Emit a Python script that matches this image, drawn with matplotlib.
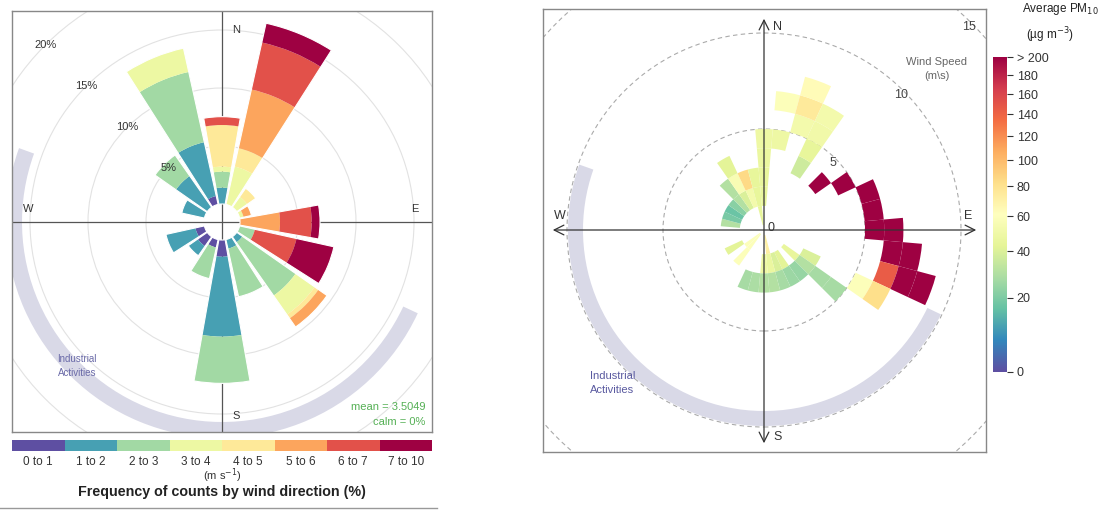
import numpy as np
import matplotlib.pyplot as plt
from matplotlib.patches import Wedge, Circle
from matplotlib.lines import Line2D

plt.rcParams['font.family'] = ['Liberation Sans', 'DejaVu Sans']

W, H = 1108, 515

# ---- wind rose: % of counts per 22.5 deg sector, split by speed bin (m/s)
directions = np.arange(0, 360, 22.5)
speed_bins = ['0 to 1', '1 to 2', '2 to 3', '3 to 4', '4 to 5', '5 to 6', '6 to 7', '7 to 10']
freq = np.array([
    [0.00, 1.41, 1.38, 0.43, 3.59, 0.00, 0.72, 0.00],   # N
    [0.00, 0.00, 0.00, 3.35, 1.62, 5.18, 4.15, 1.70],   # NNE
    [0.00, 0.00, 0.00, 1.10, 0.90, 0.00, 0.00, 0.00],   # NE
    [0.00, 0.00, 0.00, 0.35, 0.00, 0.70, 0.00, 0.00],   # ENE
    [0.00, 0.00, 0.00, 0.00, 0.00, 3.45, 2.73, 0.72],   # E
    [0.00, 0.00, 1.35, 0.00, 0.00, 0.00, 3.68, 3.30],   # ESE
    [0.00, 0.60, 5.60, 2.00, 0.40, 0.90, 0.00, 0.00],   # SE
    [0.00, 0.80, 4.25, 0.00, 0.00, 0.00, 0.00, 0.00],   # SSE
    [1.44, 6.89, 4.03, 0.00, 0.00, 0.00, 0.00, 0.00],   # S
    [0.70, 0.00, 2.75, 0.00, 0.00, 0.00, 0.00, 0.00],   # SSW
    [1.00, 1.00, 0.00, 0.00, 0.00, 0.00, 0.00, 0.00],   # SW
    [0.80, 2.60, 0.00, 0.00, 0.00, 0.00, 0.00, 0.00],   # WSW
    [0.00, 0.00, 0.00, 0.00, 0.00, 0.00, 0.00, 0.00],   # W
    [0.00, 2.00, 0.00, 0.00, 0.00, 0.00, 0.00, 0.00],   # WNW
    [0.00, 3.30, 2.20, 0.00, 0.00, 0.00, 0.00, 0.00],   # NW
    [0.75, 4.75, 6.20, 2.10, 0.00, 0.00, 0.00, 0.00],   # NNW
])
rose_grid = [5, 10, 15, 20]

# ---- polar frequency plot: mean PM10 per (direction bin, 1 m/s speed bin)
pf_dir = [0, 0, 0, 0, 10, 10, 20, 20, 20, 30, 30, 30, 30,
          50, 60, 70, 80, 90, 90, 100, 100, 110, 110, 110, 120, 120,
          120, 130, 130, 130, 130, 140, 150, 150, 160, 160, 170, 170, 170, 180, 180, 190, 200,
          220, 230, 220, 240,
          280, 290, 300, 310, 320, 320, 330, 330, 330, 340, 340, 350, 350, 350]
pf_ws = [1, 2, 3, 4, 4, 6, 5, 6, 7, 3, 4, 5, 6,
         3, 4, 5, 5, 5, 6, 6, 7, 6, 7, 8, 5, 6,
         2, 1, 2, 3, 4, 2, 1, 2, 1, 2, 0, 1, 2, 1, 2, 2, 2,
         0, 0, 1, 1,
         1, 1, 1, 1, 1, 2, 1, 2, 3, 1, 2, 0, 1, 2]
pf_val = [45, 45, 46, 48, 48, 58, 52, 75, 64, 36, 44, 50, 52,
          250, 250, 250, 250, 250, 250, 250, 250, 145, 250, 250, 58, 82,
          40, 45, 30, 27, 27, 24, 42, 25, 40, 27, 72, 46, 30, 48, 30, 28, 27,
          58, 58, 58, 42,
          30, 19, 17, 22, 30, 30, 40, 55, 42, 52, 85, 44, 44, 44]
cbar_ticks = [0, 20, 40, 60, 80, 100, 120, 140, 160, 180, 200]
cbar_labels = ['0', '20', '40', '60', '80', '100', '120', '140', '160', '180', '> 200']


def pm_scale(v):
    # square-root colour scale used by the key
    lo = 1.48
    return np.clip((np.sqrt(np.asarray(v, float)) - lo) / (np.sqrt(200) - lo), 0, 1)


cmap = plt.cm.Spectral_r
rose_cols = cmap(np.linspace(0, 1, 8))
arc_col = '#D9D9E7'

fig = plt.figure(figsize=(W / 100, H / 100), dpi=100)

# ================= left: wind rose =================
px1 = 11.6                      # pixels per %
calm = 18 / px1
ax1 = fig.add_axes([12 / W, 1 - 432 / H, 420 / W, 421 / H])
ax1.set_xlim(-210 / px1, 210 / px1)
ax1.set_ylim(-210 / px1, 211 / px1)

for f in rose_grid:
    ax1.add_patch(Circle((0, 0), calm + f, fill=False, ec='#E2E2E2', lw=0.8, zorder=1))
ax1.axhline(0, color='#555555', lw=0.9, zorder=2)
ax1.axvline(0, color='#555555', lw=0.9, zorder=2)

ax1.add_patch(Wedge((0, 0), 216 / px1, 160, 335, width=16 / px1,
                    facecolor=arc_col, edgecolor='none', zorder=1.5))

for d, row in zip(directions, freq):
    base = calm
    for k, v in enumerate(row):
        if v <= 0:
            continue
        ax1.add_patch(Wedge((0, 0), base + v, 90 - d - 10, 90 - d + 10, width=v,
                            facecolor=rose_cols[k], edgecolor='none', zorder=3))
        base += v
    if base > calm:
        ax1.add_patch(Wedge((0, 0), base, 90 - d - 10, 90 - d + 10, width=base - calm,
                            facecolor='none', edgecolor='white', lw=0.8, zorder=4))

for f in rose_grid:
    r = calm + f
    ax1.text(-r * np.sin(np.pi / 4), r * np.cos(np.pi / 4), f'{f}%',
             ha='center', va='center', fontsize=8, color='#333333', zorder=6)

for lab, x, y in [('N', 14, 192), ('S', 14, -194), ('W', -194, 13), ('E', 193, 13)]:
    ax1.text(x / px1, y / px1, lab, ha='center', va='center', fontsize=8, color='#333333', zorder=6)

ax1.text(0.155, 0.157, 'Industrial\nActivities', transform=ax1.transAxes, ha='center',
         va='center', fontsize=7, color='#6A6AA8', linespacing=1.4)
ax1.text(0.985, 0.06, 'mean = 3.5049', transform=ax1.transAxes, ha='right', va='center',
         fontsize=8, color='#55B055')
ax1.text(0.985, 0.024, 'calm = 0%', transform=ax1.transAxes, ha='right', va='center',
         fontsize=8, color='#55B055')
ax1.set_xticks([])
ax1.set_yticks([])
for s in ax1.spines.values():
    s.set_color('#888888')
    s.set_linewidth(1)

# key below the rose
axk = fig.add_axes([12 / W, 1 - 451 / H, 420 / W, 11 / H])
axk.bar(np.arange(8), 1, width=1, align='edge', color=rose_cols)
axk.set_xlim(0, 8)
axk.set_ylim(0, 1)
axk.axis('off')
for i, lab in enumerate(speed_bins):
    fig.text((12 + 420 * (i + 0.5) / 8) / W, 1 - 462 / H, lab, ha='center', va='center',
             fontsize=8.5, color='#333333')
fig.text(222 / W, 1 - 476 / H, '(m s$^{-1}$)', ha='center', va='center', fontsize=8, color='#333333')
fig.text(222 / W, 1 - 492 / H, 'Frequency of counts by wind direction (%)', ha='center',
         va='center', fontsize=10.3, fontweight='bold', color='#222222')
fig.add_artist(Line2D([0, 437 / W], [1 - 508 / H, 1 - 508 / H], color='#999999', lw=1))

# ================= right: polar frequency =================
px2 = 19.2                      # pixels per m/s
off2 = 5 / px2
ax2 = fig.add_axes([543 / W, 1 - 452 / H, 443 / W, 443 / H])
ax2.set_xlim(-221 / px2, 222 / px2)
ax2.set_ylim(-222 / px2, 221 / px2)

for ws in [5, 10, 15]:
    ax2.add_patch(Circle((0, 0), off2 + ws, fill=False, ec='#AAAAAA', lw=0.8, ls=(0, (4, 3)), zorder=1))

ax2.add_patch(Wedge((0, 0), 196 / px2, 160.5, 334.5, width=15 / px2,
                    facecolor=arc_col, edgecolor='none', zorder=1.5))

for d, ws, v in zip(pf_dir, pf_ws, pf_val):
    ax2.add_patch(Wedge((0, 0), off2 + ws + 1, 90 - d - 5, 90 - d + 5, width=1,
                        facecolor=cmap(pm_scale(v)), edgecolor='none', zorder=2))

arrow = dict(arrowstyle='<->,head_length=0.7,head_width=0.35', color='#333333', lw=0.9)
ax2.annotate('', xy=(0, 214 / px2), xytext=(0, -216 / px2), arrowprops=arrow, zorder=3)
ax2.annotate('', xy=(-214 / px2, 0), xytext=(215 / px2, 0), arrowprops=arrow, zorder=3)
for lab, x, y in [('N', 14, 203), ('S', 14, -207), ('W', -204, 14), ('E', 204, 14)]:
    ax2.text(x / px2, y / px2, lab, ha='center', va='center', fontsize=9, color='#333333')
ax2.text(0.35, 0.1, '0', ha='center', va='center', fontsize=9, color='#333333', zorder=4)
for ws in [5, 10, 15]:
    r = off2 + ws - 0.15
    ax2.text(r * np.sin(np.pi / 4), r * np.cos(np.pi / 4) - 0.12, str(ws), ha='center', va='center',
             fontsize=9, color='#444444', zorder=4)
ax2.text(173 / px2, 161 / px2, 'Wind Speed\n(m\\s)', ha='center', va='center', fontsize=8,
         color='#666666', linespacing=1.6)
ax2.text(-174 / px2, -153 / px2, 'Industrial\nActivities', ha='left', va='center', fontsize=8,
         color='#5A5AA0', linespacing=1.5)
ax2.set_xticks([])
ax2.set_yticks([])
for s in ax2.spines.values():
    s.set_color('#888888')
    s.set_linewidth(1)

# colour key
axc = fig.add_axes([993 / W, 1 - 372 / H, 14 / W, 315 / H])
grad = np.linspace(0, 1, 256).reshape(-1, 1)
axc.imshow(grad, cmap=cmap, origin='lower', aspect='auto', extent=[0, 1, 0, 1])
axc.set_xticks([])
axc.yaxis.tick_right()
axc.set_yticks(pm_scale(cbar_ticks))
axc.set_yticklabels(cbar_labels)
axc.tick_params(axis='y', length=4, width=0.8, colors='#333333', labelsize=9, pad=3)
for s in axc.spines.values():
    s.set_visible(False)
fig.text(1060 / W, 1 - 9 / H, 'Average PM$_{10}$', ha='center', va='center', fontsize=8.5, color='#222222')
fig.text(1050 / W, 1 - 35 / H, '(µg m$^{-3}$)', ha='center', va='center', fontsize=8.5, color='#222222')

fig.savefig('out.png', dpi=100)
